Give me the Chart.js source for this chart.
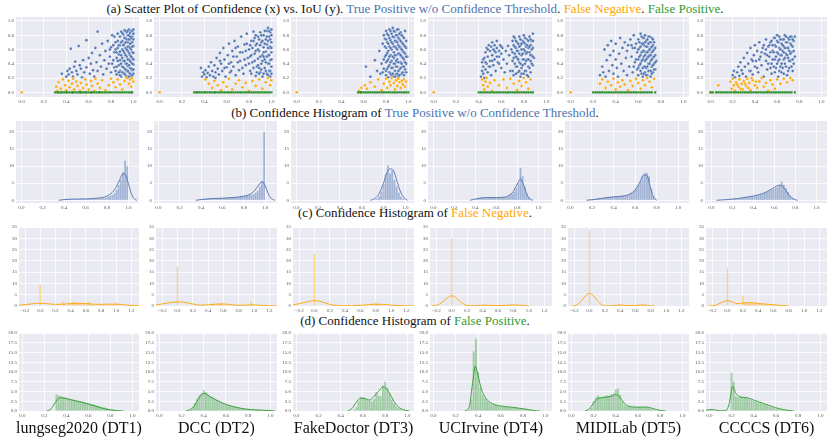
<!DOCTYPE html>
<html>
<head>
<meta charset="utf-8">
<script src="https://cdn.jsdelivr.net/npm/chart.js@4.4.1/dist/chart.umd.min.js"></script>
<style>
    body { margin: 0; width: 830px; height: 440px; position: relative; overflow: hidden; background: #fff;
           font-family: 'Liberation Serif', 'Times New Roman', serif; color: #111; }
    .title { position: absolute; left: 0; width: 830px; text-align: center; font-size: 13px; line-height: 15px; white-space: nowrap; }
    .name { position: absolute; width: 160px; text-align: center; font-size: 16px; line-height: 18px; white-space: nowrap; }
    .tp { color: #4c72b0; }
    .fn { color: #ffa500; }
    .fp { color: #2f9a2f; }
</style>
</head>
<body>
<div class="title" style="top:1px">(a) Scatter Plot of Confidence (x) vs. IoU (y). <span class="tp">True Positive w/o Confidence Threshold</span>. <span class="fn">False Negative</span>. <span class="fp">False Positive</span>.</div>
<div class="title" style="top:105px">(b) Confidence Histogram of <span class="tp">True Positive w/o Confidence Threshold</span>.</div>
<div class="title" style="top:205px">(c) Confidence Histogram of <span class="fn">False Negative</span>.</div>
<div class="title" style="top:313px">(d) Confidence Histogram of <span class="fp">False Positive</span>.</div>
<script>
// ---- data ----
const datasetNames = ['lungseg2020 (DT1)', 'DCC (DT2)', 'FakeDoctor (DT3)', 'UCIrvine (DT4)', 'MIDILab (DT5)', 'CCCCS (DT6)'];

const unitTicks = [0, 0.2, 0.4, 0.6, 0.8, 1.0];
const fnXTicks = [-0.2, 0, 0.2, 0.4, 0.6, 0.8, 1.0, 1.2];
const tpYTicks = [0, 5, 10, 15, 20];
const fnYTicks = [0, 5, 10, 15, 20, 25, 30, 35];
const fpYTicks = [0, 2.5, 5, 7.5, 10, 12.5, 15, 17.5, 20];

// scatter: true positives [confidence, IoU]
const tp1 = [[0.36,0.26],[0.40,0.22],[0.41,0.30],[0.42,0.25],[0.43,0.33],[0.44,0.61],[0.45,0.28],[0.46,0.22],[0.47,0.36],[0.48,0.43],
    [0.49,0.30],[0.50,0.25],[0.51,0.65],[0.52,0.38],[0.53,0.33],[0.54,0.21],[0.55,0.45],[0.56,0.28],[0.58,0.73],[0.58,0.35],
    [0.60,0.48],[0.61,0.26],[0.62,0.40],[0.63,0.55],[0.64,0.31],[0.65,0.22],[0.66,0.62],[0.67,0.42],[0.68,0.85],[0.68,0.30],
    [0.70,0.52],[0.71,0.36],[0.72,0.68],[0.73,0.25],[0.74,0.45],[0.75,0.58],[0.76,0.33],[0.77,0.72],[0.78,0.40],[0.79,0.50],
    [0.80,0.28],[0.80,0.63],[0.81,0.80],[0.82,0.45],[0.83,0.35],[0.83,0.56],[0.84,0.70],[0.85,0.25],[0.85,0.48],[0.86,0.82],
    [0.86,0.62],[0.87,0.38],[0.87,0.53],[0.88,0.30],[0.88,0.45],[0.88,0.66],[0.88,0.78],[0.89,0.22],[0.89,0.52],[0.89,0.85],
    [0.90,0.36],[0.90,0.60],[0.90,0.72],[0.91,0.27],[0.91,0.44],[0.91,0.81],[0.92,0.33],[0.92,0.55],[0.92,0.68],[0.92,0.87],
    [0.93,0.24],[0.93,0.40],[0.93,0.62],[0.93,0.76],[0.94,0.30],[0.94,0.50],[0.94,0.84],[0.95,0.21],[0.95,0.37],[0.95,0.58],
    [0.95,0.70],[0.95,0.80],[0.96,0.28],[0.96,0.46],[0.96,0.64],[0.96,0.88],[0.97,0.34],[0.97,0.52],[0.97,0.74],[0.97,0.83],
    [0.98,0.23],[0.98,0.42],[0.98,0.60],[0.98,0.69],[0.98,0.86],[0.99,0.31],[0.99,0.48],[0.99,0.56],[0.99,0.78],[1.00,0.26],
    [1.00,0.39],[1.00,0.65],[1.00,0.82],
    [0.88,0.24],[0.88,0.57],[0.89,0.40],[0.89,0.70],[0.90,0.28],[0.90,0.48],[0.90,0.83],[0.91,0.35],[0.91,0.58],[0.91,0.66],
    [0.92,0.26],[0.92,0.44],[0.92,0.76],[0.93,0.32],[0.93,0.52],[0.93,0.70],[0.93,0.86],[0.94,0.22],[0.94,0.40],[0.94,0.60],
    [0.94,0.74],[0.95,0.30],[0.95,0.46],[0.95,0.64],[0.95,0.86],[0.96,0.22],[0.96,0.38],[0.96,0.55],[0.96,0.74],[0.96,0.80],
    [0.97,0.26],[0.97,0.44],[0.97,0.62],[0.97,0.68],[0.97,0.78],[0.98,0.33],[0.98,0.50],[0.98,0.76],[0.99,0.24],[0.99,0.40],
    [0.99,0.64],[0.99,0.70],[0.99,0.86],[1.00,0.32],[1.00,0.46],[1.00,0.55],[1.00,0.74],[1.00,0.88],[0.84,0.30],[0.84,0.60],
    [0.86,0.44],[0.86,0.72],[0.87,0.28],[0.87,0.66],[0.85,0.36],[0.82,0.66],[0.81,0.40],[0.79,0.60],[0.83,0.78],[0.85,0.56]];
const tp2 = [[0.37,0.34],[0.38,0.22],[0.39,0.28],[0.40,0.25],[0.41,0.31],[0.42,0.21],[0.43,0.27],[0.44,0.36],[0.45,0.24],[0.46,0.42],
    [0.47,0.30],[0.48,0.22],[0.49,0.38],[0.50,0.28],[0.51,0.48],[0.52,0.33],[0.53,0.25],[0.54,0.55],[0.55,0.40],[0.56,0.30],
    [0.57,0.62],[0.58,0.46],[0.59,0.22],[0.60,0.35],[0.61,0.52],[0.62,0.68],[0.63,0.28],[0.64,0.42],[0.65,0.58],[0.66,0.36],
    [0.67,0.72],[0.68,0.24],[0.69,0.50],[0.70,0.64],[0.71,0.31],[0.72,0.44],[0.73,0.78],[0.74,0.56],[0.75,0.26],[0.76,0.67],
    [0.77,0.38],[0.78,0.82],[0.79,0.48],[0.80,0.60],[0.81,0.30],[0.82,0.72],[0.83,0.42],[0.84,0.85],[0.85,0.54],[0.86,0.23],
    [0.86,0.66],[0.87,0.36],[0.88,0.78],[0.88,0.47],[0.89,0.58],[0.90,0.28],[0.90,0.84],[0.91,0.40],[0.91,0.70],[0.92,0.52],
    [0.92,0.22],[0.93,0.63],[0.93,0.80],[0.94,0.34],[0.94,0.46],[0.95,0.74],[0.95,0.57],[0.96,0.26],[0.96,0.86],[0.96,0.67],
    [0.97,0.40],[0.97,0.52],[0.98,0.30],[0.98,0.62],[0.98,0.78],[0.99,0.45],[0.99,0.84],[0.99,0.22],[1.00,0.36],[1.00,0.56],
    [1.00,0.70],[1.00,0.88],[0.97,0.90],[0.93,0.50],[0.89,0.34],[0.85,0.76],[0.81,0.50],[0.77,0.58],[0.74,0.34],[0.70,0.42],
    [0.66,0.50],[0.62,0.40],[0.58,0.34],[0.54,0.44],[0.50,0.20],
    [0.80,0.40],[0.81,0.66],[0.82,0.26],[0.82,0.52],[0.83,0.62],[0.84,0.34],[0.84,0.72],[0.85,0.44],[0.86,0.58],[0.86,0.80],
    [0.87,0.28],[0.87,0.68],[0.88,0.38],[0.88,0.60],[0.89,0.26],[0.89,0.74],[0.90,0.50],[0.90,0.66],[0.91,0.32],[0.91,0.80],
    [0.92,0.44],[0.92,0.72],[0.93,0.26],[0.93,0.56],[0.94,0.68],[0.94,0.86],[0.95,0.30],[0.95,0.42],[0.96,0.50],[0.96,0.78],
    [0.97,0.24],[0.97,0.62],[0.97,0.72],[0.98,0.40],[0.98,0.52],[0.98,0.86],[0.99,0.30],[0.99,0.64],[0.99,0.74],[1.00,0.26],
    [1.00,0.46],[1.00,0.62],[1.00,0.80],[0.78,0.68],[0.76,0.46],[0.72,0.56],[0.68,0.62],[0.64,0.30]];
const tp3 = [[0.62,0.36],[0.66,0.22],[0.70,0.45],[0.72,0.30],[0.74,0.58],[0.75,0.26],[0.76,0.40],[0.77,0.68],[0.78,0.33],[0.79,0.50],
    [0.79,0.75],[0.80,0.24],[0.80,0.42],[0.80,0.62],[0.80,0.86],[0.81,0.33],[0.81,0.55],[0.81,0.70],[0.82,0.21],[0.82,0.46],
    [0.82,0.80],[0.83,0.28],[0.83,0.38],[0.83,0.64],[0.83,0.88],[0.84,0.52],[0.84,0.73],[0.85,0.24],[0.85,0.44],[0.85,0.60],
    [0.85,0.82],[0.86,0.34],[0.86,0.68],[0.86,0.90],[0.87,0.22],[0.87,0.48],[0.87,0.56],[0.87,0.77],[0.88,0.30],[0.88,0.40],
    [0.88,0.64],[0.88,0.85],[0.89,0.25],[0.89,0.52],[0.89,0.72],[0.90,0.36],[0.90,0.46],[0.90,0.60],[0.90,0.80],[0.91,0.22],
    [0.91,0.66],[0.91,0.88],[0.92,0.32],[0.92,0.54],[0.92,0.74],[0.93,0.42],[0.93,0.62],[0.93,0.84],[0.94,0.26],[0.94,0.50],
    [0.94,0.70],[0.95,0.36],[0.95,0.58],[0.95,0.78],[0.96,0.24],[0.96,0.46],[0.96,0.66],[0.97,0.32],[0.97,0.54],[0.97,0.86],
    [0.98,0.40],[0.98,0.62],[0.98,0.28],[0.99,0.50],
    [0.80,0.30],[0.80,0.52],[0.80,0.74],[0.81,0.44],[0.81,0.82],[0.82,0.36],[0.82,0.58],[0.82,0.68],[0.83,0.50],[0.83,0.76],
    [0.84,0.26],[0.84,0.42],[0.84,0.62],[0.84,0.86],[0.85,0.34],[0.85,0.70],[0.86,0.26],[0.86,0.50],[0.86,0.78],[0.87,0.40],
    [0.87,0.64],[0.87,0.86],[0.88,0.22],[0.88,0.52],[0.88,0.72],[0.89,0.36],[0.89,0.44],[0.89,0.62],[0.89,0.80],[0.90,0.26],
    [0.90,0.70],[0.90,0.88],[0.91,0.30],[0.91,0.42],[0.91,0.54],[0.91,0.76],[0.92,0.24],[0.92,0.64],[0.92,0.82],[0.93,0.34],
    [0.93,0.52],[0.93,0.72],[0.94,0.40],[0.94,0.60],[0.94,0.80],[0.95,0.28],[0.95,0.48],[0.95,0.68],[0.96,0.36],[0.96,0.56],
    [0.96,0.76],[0.97,0.42],[0.97,0.64],[0.98,0.50],[0.98,0.72],[0.79,0.64],[0.78,0.46],[0.78,0.80],[0.77,0.28]];
const tp4 = [[0.42,0.22],[0.43,0.30],[0.43,0.42],[0.44,0.26],[0.44,0.36],[0.45,0.48],[0.45,0.20],[0.46,0.32],[0.46,0.56],[0.47,0.40],
    [0.47,0.62],[0.48,0.28],[0.48,0.50],[0.49,0.66],[0.49,0.36],[0.50,0.58],[0.50,0.44],[0.51,0.24],[0.51,0.64],[0.52,0.52],
    [0.52,0.70],[0.53,0.38],[0.53,0.60],[0.54,0.46],[0.54,0.66],[0.55,0.30],[0.55,0.56],[0.56,0.62],[0.56,0.72],[0.57,0.42],
    [0.58,0.58],[0.58,0.50],[0.59,0.66],[0.60,0.34],[0.60,0.54],[0.61,0.62],[0.62,0.46],[0.63,0.28],[0.64,0.58],[0.65,0.40],
    [0.66,0.65],[0.67,0.52],[0.68,0.30],[0.69,0.60],[0.70,0.72],[0.70,0.44],[0.71,0.24],[0.71,0.66],[0.72,0.54],[0.72,0.76],
    [0.73,0.36],[0.73,0.62],[0.74,0.48],[0.74,0.70],[0.75,0.28],[0.75,0.58],[0.76,0.42],[0.76,0.78],[0.77,0.66],[0.77,0.22],
    [0.78,0.52],[0.78,0.34],[0.79,0.72],[0.79,0.46],[0.80,0.60],[0.80,0.26],[0.80,0.80],[0.81,0.40],[0.81,0.68],[0.82,0.54],
    [0.82,0.30],[0.83,0.74],[0.83,0.46],[0.84,0.62],[0.84,0.22],[0.84,0.36],[0.85,0.56],[0.85,0.78],[0.86,0.44],[0.86,0.66],
    [0.86,0.28],[0.87,0.52],[0.87,0.72],[0.88,0.38],[0.88,0.62],[0.88,0.82],[0.89,0.48],
    [0.70,0.30],[0.70,0.56],[0.71,0.48],[0.71,0.78],[0.72,0.40],[0.72,0.64],[0.73,0.26],[0.73,0.50],[0.73,0.72],[0.74,0.58],
    [0.74,0.36],[0.75,0.46],[0.75,0.68],[0.76,0.54],[0.76,0.30],[0.76,0.64],[0.77,0.40],[0.77,0.74],[0.78,0.60],[0.78,0.26],
    [0.78,0.68],[0.79,0.38],[0.79,0.54],[0.80,0.46],[0.80,0.70],[0.81,0.30],[0.81,0.58],[0.81,0.76],[0.82,0.44],[0.82,0.64],
    [0.83,0.24],[0.83,0.56],[0.83,0.66],[0.84,0.46],[0.84,0.72],[0.85,0.34],[0.85,0.64],[0.86,0.52],[0.86,0.74],[0.87,0.40],
    [0.87,0.60],[0.88,0.50],[0.88,0.72],[0.44,0.46],[0.46,0.42],[0.48,0.60],[0.50,0.36],[0.52,0.44],[0.54,0.58],[0.56,0.50],
    [0.58,0.40],[0.60,0.64]];
const tp5 = [[0.26,0.24],[0.28,0.36],[0.29,0.28],[0.30,0.60],[0.31,0.22],[0.32,0.45],[0.33,0.66],[0.34,0.30],[0.35,0.52],[0.36,0.72],
    [0.37,0.38],[0.38,0.26],[0.38,0.58],[0.40,0.46],[0.40,0.68],[0.41,0.34],[0.42,0.22],[0.43,0.54],[0.44,0.76],[0.45,0.40],
    [0.46,0.62],[0.47,0.30],[0.48,0.70],[0.49,0.48],[0.50,0.24],[0.50,0.58],[0.51,0.66],[0.52,0.36],[0.53,0.74],[0.54,0.50],
    [0.55,0.28],[0.55,0.62],[0.56,0.80],[0.57,0.42],[0.58,0.68],[0.59,0.32],[0.59,0.56],[0.60,0.24],[0.60,0.46],[0.60,0.74],
    [0.61,0.38],[0.61,0.62],[0.62,0.30],[0.62,0.52],[0.62,0.82],[0.63,0.44],[0.63,0.68],[0.64,0.22],[0.64,0.58],[0.64,0.76],
    [0.65,0.36],[0.65,0.50],[0.65,0.66],[0.66,0.28],[0.66,0.44],[0.66,0.80],[0.67,0.56],[0.67,0.72],[0.67,0.34],[0.68,0.24],
    [0.68,0.48],[0.68,0.64],[0.69,0.40],[0.69,0.78],[0.69,0.58],[0.70,0.30],[0.70,0.52],[0.70,0.70],[0.71,0.44],[0.71,0.62],
    [0.71,0.22],[0.72,0.36],[0.72,0.56],[0.72,0.76],[0.73,0.28],[0.73,0.48],[0.73,0.66],[0.74,0.40],[0.74,0.60],[0.75,0.32],
    [0.75,0.52],[0.76,0.44],
    [0.60,0.34],[0.60,0.60],[0.61,0.50],[0.61,0.70],[0.62,0.40],[0.62,0.64],[0.63,0.26],[0.63,0.56],[0.63,0.78],[0.64,0.34],
    [0.64,0.46],[0.64,0.68],[0.65,0.26],[0.65,0.58],[0.65,0.76],[0.66,0.36],[0.66,0.52],[0.66,0.70],[0.67,0.24],[0.67,0.46],
    [0.67,0.64],[0.68,0.36],[0.68,0.56],[0.68,0.74],[0.69,0.30],[0.69,0.50],[0.69,0.68],[0.70,0.40],[0.70,0.60],[0.70,0.78],
    [0.71,0.30],[0.71,0.52],[0.71,0.70],[0.72,0.46],[0.72,0.64],[0.72,0.26],[0.73,0.38],[0.73,0.58],[0.73,0.74],[0.74,0.32],
    [0.74,0.50],[0.74,0.70],[0.75,0.42],[0.75,0.62],[0.58,0.46],[0.57,0.62],[0.56,0.36],[0.54,0.66]];
const tp6 = [[0.20,0.24],[0.21,0.30],[0.22,0.21],[0.24,0.28],[0.25,0.36],[0.26,0.23],[0.27,0.42],[0.28,0.31],[0.29,0.26],[0.30,0.48],
    [0.31,0.36],[0.32,0.22],[0.33,0.55],[0.34,0.40],[0.35,0.30],[0.36,0.62],[0.37,0.46],[0.38,0.25],[0.39,0.52],[0.40,0.36],
    [0.40,0.66],[0.41,0.44],[0.42,0.58],[0.43,0.28],[0.44,0.70],[0.45,0.50],[0.46,0.38],[0.47,0.62],[0.48,0.22],[0.49,0.54],
    [0.50,0.74],[0.50,0.44],[0.51,0.32],[0.52,0.64],[0.53,0.50],[0.54,0.70],[0.55,0.40],[0.55,0.26],[0.56,0.58],[0.57,0.76],
    [0.58,0.46],[0.58,0.66],[0.59,0.34],[0.60,0.56],[0.60,0.72],[0.61,0.22],[0.61,0.44],[0.62,0.62],[0.62,0.78],[0.63,0.52],
    [0.63,0.36],[0.64,0.68],[0.64,0.28],[0.65,0.58],[0.65,0.74],[0.66,0.46],[0.66,0.64],[0.67,0.80],[0.67,0.40],[0.68,0.54],
    [0.68,0.70],[0.69,0.24],[0.69,0.62],[0.70,0.48],[0.70,0.76],[0.71,0.58],[0.71,0.34],[0.72,0.68],[0.72,0.44],[0.73,0.78],
    [0.73,0.56],[0.74,0.64],[0.74,0.30],[0.75,0.72],[0.76,0.78],[0.76,0.50],
    [0.50,0.60],[0.51,0.52],[0.52,0.40],[0.53,0.66],[0.54,0.34],[0.54,0.56],[0.55,0.72],[0.56,0.46],[0.56,0.66],[0.57,0.36],
    [0.57,0.56],[0.58,0.28],[0.58,0.76],[0.59,0.50],[0.59,0.64],[0.60,0.40],[0.60,0.80],[0.61,0.54],[0.61,0.70],[0.62,0.30],
    [0.62,0.46],[0.63,0.60],[0.63,0.74],[0.64,0.40],[0.64,0.52],[0.65,0.34],[0.65,0.66],[0.66,0.26],[0.66,0.56],[0.66,0.74],
    [0.67,0.48],[0.67,0.62],[0.68,0.36],[0.68,0.78],[0.69,0.52],[0.69,0.70],[0.70,0.30],[0.70,0.62],[0.71,0.44],[0.71,0.74],
    [0.72,0.54],[0.72,0.78],[0.73,0.36],[0.73,0.66],[0.74,0.46],[0.74,0.74],[0.75,0.58],[0.75,0.40],[0.46,0.56],[0.44,0.46],
    [0.42,0.34],[0.48,0.66],[0.38,0.44],[0.36,0.30]];

// scatter: false negatives [confidence, IoU]
const fn1 = [[0.00,0.00],[0.31,0.08],[0.32,0.02],[0.33,0.14],[0.35,0.05],[0.37,0.18],[0.39,0.10],[0.40,0.03],[0.42,0.16],[0.43,0.07],
    [0.45,0.12],[0.46,0.19],[0.47,0.04],[0.49,0.15],[0.50,0.09],[0.52,0.02],[0.53,0.13],[0.55,0.06],[0.57,0.18],[0.58,0.11],
    [0.60,0.04],[0.62,0.16],[0.63,0.09],[0.65,0.02],[0.66,0.19],[0.68,0.12],[0.70,0.06],[0.72,0.17],[0.75,0.03],[0.78,0.10],
    [0.80,0.19],[0.82,0.14],[0.84,0.07],[0.86,0.18],[0.88,0.11],[0.90,0.04],[0.92,0.16],[0.94,0.20],[0.96,0.12],[0.97,0.18],
    [0.98,0.08],[1.00,0.15],[0.99,0.20]];
const fn2 = [[0.00,0.00],[0.41,0.18],[0.44,0.12],[0.47,0.06],[0.49,0.16],[0.52,0.10],[0.55,0.03],[0.57,0.14],[0.60,0.08],[0.62,0.19],
    [0.65,0.04],[0.68,0.12],[0.71,0.17],[0.74,0.07],[0.77,0.13],[0.80,0.02],[0.83,0.16],[0.86,0.09],[0.89,0.18],[0.92,0.05],
    [0.95,0.14],[0.97,0.20],[0.99,0.10],[1.00,0.17]];
const fn3 = [[0.00,0.00],[0.56,0.02],[0.58,0.06],[0.61,0.10],[0.63,0.05],[0.66,0.14],[0.70,0.08],[0.73,0.18],[0.76,0.03],[0.78,0.12],
    [0.80,0.19],[0.81,0.06],[0.83,0.15],[0.84,0.10],[0.85,0.20],[0.87,0.13],[0.88,0.04],[0.89,0.17],[0.90,0.09],[0.91,0.19],
    [0.92,0.14],[0.93,0.06],[0.94,0.16],[0.95,0.11],[0.96,0.18],[0.97,0.08],[0.98,0.15]];
const fn4 = [[0.00,0.00],[0.43,0.18],[0.44,0.10],[0.45,0.04],[0.46,0.15],[0.47,0.20],[0.48,0.08],[0.50,0.13],[0.52,0.02],[0.54,0.17],
    [0.58,0.10],[0.62,0.18],[0.65,0.06],[0.68,0.19],[0.71,0.12],[0.74,0.03],[0.76,0.16],[0.78,0.09],[0.80,0.20],[0.82,0.14],
    [0.84,0.05],[0.86,0.18]];
const fn5 = [[0.00,0.00],[0.26,0.12],[0.28,0.18],[0.31,0.06],[0.33,0.15],[0.36,0.10],[0.38,0.19],[0.40,0.04],[0.42,0.14],[0.44,0.08],
    [0.46,0.17],[0.48,0.11],[0.51,0.03],[0.53,0.16],[0.55,0.09],[0.58,0.19],[0.60,0.13],[0.62,0.05],[0.64,0.17],[0.66,0.10],
    [0.68,0.20],[0.70,0.15],[0.72,0.07],[0.74,0.19]];
const fn6 = [[0.00,0.00],[0.07,0.10],[0.18,0.15],[0.19,0.05],[0.20,0.19],[0.21,0.10],[0.22,0.02],[0.23,0.14],[0.25,0.08],[0.26,0.18],
    [0.28,0.12],[0.29,0.04],[0.30,0.16],[0.32,0.09],[0.33,0.19],[0.35,0.13],[0.36,0.03],[0.38,0.17],[0.40,0.10],[0.42,0.06],
    [0.44,0.15],[0.46,0.20],[0.48,0.08],[0.50,0.13],[0.52,0.02],[0.54,0.17],[0.56,0.11],[0.58,0.05],[0.60,0.18],[0.63,0.12],
    [0.66,0.19],[0.69,0.14],[0.72,0.20],[0.74,0.17],[0.24,0.11],[0.27,0.05],[0.31,0.12],[0.34,0.06],[0.37,0.20],[0.41,0.15]];

// scatter: false positives, confidence only (IoU = 0)
const fp1 = [0.30,0.32,0.33,0.35,0.36,0.38,0.40,0.41,0.43,0.45,0.46,0.48,0.50,0.52,0.53,0.55,0.57,0.58,0.60,0.62,
    0.63,0.65,0.67,0.69,0.70,0.72,0.74,0.76,0.78,0.80,0.82,0.84,0.86,0.88,0.90,0.92,0.94,0.96,0.98,0.99];
const fp2 = [0.31,0.33,0.34,0.36,0.38,0.40,0.41,0.43,0.45,0.47,0.49,0.50,0.52,0.54,0.56,0.58,0.60,0.62,0.64,0.66,
    0.68,0.70,0.72,0.74,0.76,0.78,0.80,0.82,0.84,0.86,0.88,0.90,0.92,0.94,0.96,0.98,1.00];
const fp3 = [0.55,0.57,0.58,0.60,0.62,0.64,0.66,0.68,0.70,0.72,0.74,0.76,0.78,0.80,0.82,0.84,0.86,0.88,0.90,0.92,
    0.94,0.96,0.98,1.00];
const fp4 = [0.40,0.42,0.44,0.46,0.48,0.50,0.52,0.54,0.56,0.58,0.60,0.62,0.64,0.66,0.68,0.70,0.72,0.74,0.76,0.78,
    0.80,0.82,0.84,0.86,0.88];
const fp5 = [0.20,0.22,0.24,0.26,0.28,0.30,0.32,0.34,0.36,0.38,0.40,0.42,0.44,0.46,0.48,0.50,0.52,0.54,0.56,0.58,
    0.60,0.62,0.64,0.66,0.68,0.70,0.72,0.75];
const fp6 = [0.00,0.02,0.05,0.07,0.09,0.11,0.13,0.15,0.17,0.19,0.21,0.23,0.25,0.27,0.29,0.31,0.33,0.35,0.37,0.39,
    0.41,0.43,0.45,0.47,0.49,0.51,0.53,0.55,0.57,0.59,0.61,0.63,0.65,0.67,0.69,0.71,0.73,0.76];

// histograms: bin width, first bin centre per panel, bar heights (density)
const binWidth = 0.02;
const tpHistStart = [0.41, 0.41, 0.72, 0.41, 0.15, 0.11];
const tpHist1 = [0.2,0.3,0.3,0.3,0.3,0.3,0.3,0.3,0.3,0.4, 0.4,0.4,0.4,0.5,0.5,0.6,0.6,0.7,0.7,0.8, 1.0,1.2,1.5,2.0,3.0,4.5,6.0,8.2,11.6,10.0];
const tpHist2 = [0.3,0.4,0.5,0.5,0.5,0.5,0.5,0.5,0.6,0.6, 0.6,0.7,0.7,0.8,0.8,0.9,1.0,1.0,1.1,1.2, 1.3,1.4,1.5,1.6,1.8,2.2,2.8,4.0,5.5,20];
const tpHist3 = [0.2,0.5,1.2,2.5,4.5,7.5,10.2,7.8,8.8,6.0, 4.0,2.2,1.0,0.4,0.1];
const tpHist4 = [0.3,0.6,0.7,0.8,0.8,0.7,0.8,0.8,0.7,0.8, 0.8,0.9,0.9,0.8,0.9,1.2,1.5,1.8,2.5,3.5, 5.0,9.5,7.0,4.0,2.0,0.8,0.2];
const tpHist5 = [0.1,0.2,0.3,0.3,0.4,0.5,0.6,0.6,0.7,0.8, 0.9,1.0,1.0,1.1,1.2,1.1,1.2,1.3,1.4,1.5, 1.8,2.2,2.8,3.5,4.5,5.5,7.0,8.0,8.0,7.0, 3.5,1.2,0.3];
const tpHist6 = [0.1,0.1,0.2,0.2,0.3,0.3,0.4,0.5,0.5,0.6, 0.7,0.8,0.9,1.0,1.1,1.2,1.4,1.5,1.7,1.9, 2.1,2.4,2.7,3.0,3.3,3.6,4.0,4.5,5.5,4.5, 3.5,2.4,1.3,0.6,0.2,0.1];

const fnHistStart = [0, 0, 0, 0, 0, 0];
const fnHist1 = [9.5,0,0,0,0,0,0,0,0,0, 0,0,0,0,0,2.0,0.8,0,0.5,0.8, 1.2,1.5,2.0,1.3,1.2,1.5,1.0,1.3,0.8,1.0, 0.8,1.0,1.8,1.0,0.5,0.6,0,0.4,0,0.5, 0.6,0,1.2,0.5,0,0.6,0.4,0,0.7,0.5, 1.5];
const fnHist2 = [17.5,0,0,0,0,0,0,0,0,0, 0,0,0,0,0,0,0,0,0,0, 0,0,0.6,1.2,0.8,0.4,0,0.8,1.0,1.2, 0.6,0.6,0,0.4,0,0,0,0,0.3,0, 0,0,0,0,0,0,0,0.5,1.8,0.6, 0];
const fnHist3 = [23,0,0,0,0,0,0,0,0,0, 0,0,0,0,0,0,0,0,0,0, 0,0,0,0,0,0,0,0,0,0, 0.3,0,0,0,0,0,0,0,0.5,0.8, 1.5,0.8,0.6,0.8,0,0.5,0,0.3,0,0, 0];
const fnHist4 = [30,0,0,0,0,0,0,0,0,0, 0,0,0,0,0,0,0,0,0,0, 0.4,0.6,0.3,0,0,0,0,0,0,0, 0,0,0,0,0.2,0,0,0,0.3,0, 0.6,0.4,0,0,0,0,0,0,0,0, 0];
const fnHist5 = [33.5,0,0,0,0,0,0,0,0,0, 0,0,0,0,0,0,0,0,0,0.3, 0.6,0,0,0,0,0,0,0,0,0, 0,0,0,0,0.4,0.6,0.3,0,0,0, 0,0,0,0,0,0,0,0,0,0, 0];
const fnHist6 = [17,0,0,0,0,0,0,0,0,0, 4.5,1.5,1.2,1.4,1.0,1.6,1.5,1.0,1.3,1.0, 1.2,1.0,1.1,0.8,0.9,0.6,0.8,0.6,0.7,0.5, 0.6,0.4,0,0.4,0,0.3,0,0,0,0, 0,0,0,0,0,0,0,0,0,0, 0];

const fpHistStart = [0.31, 0.28, 0.52, 0.32, 0.18, 0.00];
const fpHist1 = [4.2,4.0,3.8,3.6,3.5,3.3,3.1,3.0,2.9,2.7, 2.6,2.5,2.4,2.2,2.1,2.0,1.8,1.7,1.5,1.3, 1.2,1.0,0.9,0.7,0.5,0.4,0.3,0.2,0.1,0.1, 0.1];
const fpHist2 = [0.3,1.0,2.0,3.2,4.0,4.5,5.3,4.8,4.2,3.8, 3.5,3.1,2.8,2.5,2.2,2.0,1.7,1.5,1.3,1.1, 1.0,0.9,0.8,0.7,0.6,0.5,0.5,0.4,0.4,0.3, 0.3,0.2,0.2,0.2,0.2,0.2,0.3];
const fpHist3 = [0.3,1.0,2.5,3.5,3.6,3.3,3.0,2.6,2.5,3.0, 4.8,4.0,3.8,6.5,7.5,6.0,4.5,3.0,2.0,1.2, 0.7,0.4,0.2,0.1];
const fpHist4 = [0.5,3.0,15.3,18.5,10.0,6.0,4.0,3.2,2.6,2.2, 1.8,1.6,1.5,1.3,1.2,1.1,1.0,1.0,0.9,0.9, 0.8,0.8,0.7,0.6,0.5,0.4,0.4,0.3,0.2,0.1];
const fpHist5 = [0.8,2.5,3.5,4.0,3.6,3.4,3.8,4.0,3.8,4.2, 4.5,5.5,5.8,4.2,2.5,1.5,1.2,1.0,1.0,1.0, 0.9,1.0,1.0,0.9,1.0,0.9,0.8,0.6,0.4,0.2];
const fpHist6 = [0.3,0.3,0,0,0,0,0,0,0,0, 9.8,7.5,3.8,3.5,3.8,3.6,3.5,3.2,3.0,2.8, 2.6,2.4,2.2,2.0,1.8,1.6,1.4,1.2,1.0,0.8, 0.6,0.5,0.4,0.3,0.2,0.1];

// kde curves [x, density]
const tpKde1 = [[0.35,0],[0.4,0.2],[0.5,0.35],[0.6,0.4],[0.7,0.6],[0.78,1.0],[0.84,2.0],[0.88,3.5],[0.92,6.0],[0.95,7.8],[0.97,7.6],[1.0,5.0],[1.03,1.8],[1.06,0.3],[1.08,0]];
const tpKde2 = [[0.35,0],[0.4,0.2],[0.5,0.5],[0.6,0.6],[0.7,0.8],[0.8,1.2],[0.86,1.8],[0.9,2.8],[0.94,4.5],[0.97,5.5],[1.0,4.2],[1.03,1.8],[1.06,0.4],[1.09,0]];
const tpKde3 = [[0.68,0],[0.72,0.5],[0.76,2.0],[0.8,5.0],[0.83,8.0],[0.86,9.2],[0.89,8.8],[0.92,6.0],[0.95,3.0],[0.98,1.0],[1.02,0]];
const tpKde4 = [[0.35,0],[0.42,0.5],[0.5,0.8],[0.6,0.8],[0.68,0.9],[0.72,1.4],[0.76,2.5],[0.8,4.8],[0.83,6.2],[0.86,4.5],[0.89,1.8],[0.92,0.4],[0.95,0]];
const tpKde5 = [[0.15,0],[0.22,0.2],[0.3,0.6],[0.4,1.0],[0.48,1.2],[0.55,1.8],[0.6,3.0],[0.64,5.0],[0.68,7.4],[0.71,7.2],[0.74,4.0],[0.77,1.0],[0.8,0]];
const tpKde6 = [[0.05,0],[0.15,0.2],[0.25,0.5],[0.35,1.0],[0.45,1.6],[0.52,2.4],[0.58,3.4],[0.63,4.3],[0.66,4.4],[0.7,3.2],[0.74,1.5],[0.78,0.4],[0.82,0]];

const fnKde1 = [[-0.3,0.3],[-0.2,0.6],[-0.1,1.0],[0.0,1.2],[0.1,1.0],[0.2,0.7],[0.3,0.8],[0.4,1.1],[0.5,1.2],[0.6,1.1],[0.7,0.8],[0.8,0.7],[0.9,0.8],[1.0,0.8],[1.1,0.5],[1.2,0.25],[1.3,0.1]];
const fnKde2 = [[-0.3,0.4],[-0.2,0.9],[-0.1,1.5],[0.0,1.8],[0.1,1.6],[0.2,0.9],[0.3,0.4],[0.4,0.5],[0.5,0.8],[0.6,0.9],[0.7,0.6],[0.8,0.3],[0.9,0.4],[1.0,0.5],[1.1,0.3],[1.2,0.1],[1.3,0]];
const fnKde3 = [[-0.3,0.4],[-0.2,1.0],[-0.1,1.8],[0.0,2.4],[0.1,1.8],[0.2,0.7],[0.3,0.2],[0.4,0.1],[0.5,0.15],[0.6,0.3],[0.7,0.6],[0.8,0.8],[0.9,0.7],[1.0,0.4],[1.1,0.2],[1.2,0.1],[1.3,0.05]];
const fnKde4 = [[-0.25,0.1],[-0.2,0.3],[-0.15,1.0],[-0.1,2.3],[-0.05,3.8],[0.0,4.5],[0.05,3.8],[0.1,2.3],[0.15,1.0],[0.2,0.3],[0.25,0.1],[0.3,0.1],[0.4,0.4],[0.5,0.3],[0.6,0.2],[0.7,0.3],[0.8,0.5],[0.9,0.3],[1.0,0.05]];
const fnKde5 = [[-0.22,0],[-0.15,0.8],[-0.1,2.5],[-0.05,4.6],[0.0,5.6],[0.05,4.6],[0.1,2.5],[0.15,0.8],[0.22,0.05],[0.3,0.1],[0.4,0.5],[0.5,0.2],[0.6,0.2],[0.7,0.5],[0.8,0.1],[0.85,0]];
const fnKde6 = [[-0.25,0],[-0.15,0.4],[-0.08,1.5],[0.0,2.3],[0.08,1.6],[0.13,1.0],[0.2,1.3],[0.28,1.5],[0.36,1.3],[0.45,1.0],[0.55,0.7],[0.65,0.4],[0.72,0.2],[0.8,0]];

const fpKde1 = [[0.22,0],[0.26,0.5],[0.3,2.2],[0.34,3.4],[0.38,3.3],[0.44,2.9],[0.5,2.5],[0.56,2.1],[0.62,1.6],[0.68,1.1],[0.74,0.6],[0.8,0.3],[0.86,0.1],[0.92,0]];
const fpKde2 = [[0.24,0],[0.3,0.8],[0.34,2.5],[0.38,4.2],[0.41,4.5],[0.45,3.8],[0.5,3.0],[0.56,2.2],[0.62,1.5],[0.7,0.9],[0.78,0.5],[0.86,0.3],[0.94,0.2],[1.0,0.1],[1.04,0]];
const fpKde3 = [[0.46,0],[0.5,0.6],[0.54,2.2],[0.58,3.3],[0.62,3.2],[0.66,2.8],[0.7,3.8],[0.74,5.0],[0.78,6.2],[0.81,5.8],[0.85,4.0],[0.89,2.0],[0.93,0.8],[0.98,0.2],[1.02,0]];
const fpKde4 = [[0.28,0],[0.32,1.0],[0.35,7.0],[0.375,11.5],[0.4,9.0],[0.43,5.5],[0.47,3.2],[0.52,2.0],[0.58,1.4],[0.65,1.1],[0.72,0.9],[0.8,0.6],[0.86,0.3],[0.92,0.05],[0.95,0]];
const fpKde5 = [[0.12,0],[0.16,0.5],[0.2,2.0],[0.24,3.2],[0.3,3.5],[0.36,3.8],[0.4,4.2],[0.43,3.8],[0.47,2.2],[0.52,1.2],[0.6,1.0],[0.68,1.0],[0.74,0.6],[0.8,0.15],[0.85,0]];
const fpKde6 = [[-0.05,0],[0.0,0.35],[0.04,0.35],[0.09,0.05],[0.15,0.1],[0.18,2.0],[0.21,6.3],[0.24,4.5],[0.28,3.6],[0.34,3.4],[0.4,2.8],[0.48,2.0],[0.56,1.2],[0.63,0.6],[0.7,0.2],[0.76,0]];

// axis ranges per panel
const scatterX = [-0.05, 1.05];
const scatterY = [-0.065, 1.055];
const tpX = [[-0.05,1.10],[-0.04,1.11],[-0.05,1.08],[-0.05,1.13],[-0.05,1.10],[-0.06,1.10]];
const tpY = [-0.8, 23.2];
const fnX = [-0.28, 1.30];
const fnY = [0, 35];
const fpX = [-0.03, 1.06];
const fpY = [0, 20];

// ---- layout ----
const YW = 14, XH = 9, PT = 4, PR = 6;
const colLeftAB = [16, 154, 291, 428, 565, 705];
const colLeftCD = [19, 156, 293, 430, 568, 706];
const colRight = [139, 277, 414, 552, 689, 827];
const rows = { a: [16, 97], b: [120, 203], c: [226, 306], d: [332, 411] };

const BLUE = '#4c72b0', ORANGE = '#ffa500', GREEN = '#2a9a2a';

Chart.defaults.animation = false;
Chart.defaults.font.family = "'Liberation Serif', 'Times New Roman', serif";

const bgPlugin = {
    id: 'bg',
    beforeDraw(chart) {
        const { ctx, chartArea: a } = chart;
        ctx.save();
        ctx.fillStyle = '#eaeaf2';
        ctx.fillRect(a.left, a.top, a.width, a.height);
        ctx.restore();
    }
};

const oneDec = v => v.toFixed(1).replace('-', '\u2212');
const whole = v => String(v);

function axis(pos, range, ticks, fmt) {
    return {
        type: 'linear', position: pos, min: range[0], max: range[1], offset: false,
        grid: { color: '#ffffff', lineWidth: 0.8, drawTicks: false, offset: false },
        border: { display: false },
        ticks: { font: { size: 5 }, color: '#555', padding: 2, autoSkip: false, maxRotation: 0, callback: v => fmt(v) },
        afterBuildTicks: s => { s.ticks = ticks.map(v => ({ value: v })); },
        afterFit: s => { if (pos === 'left') s.width = YW; else s.height = XH; }
    };
}

function makeCanvas(L, R, T, B) {
    const c = document.createElement('canvas');
    const w = R - L + YW + PR, h = B - T + PT + XH;
    c.width = w; c.height = h;
    c.style.cssText = `position:absolute;left:${L - YW}px;top:${T - PT}px;width:${w}px;height:${h}px`;
    document.body.appendChild(c);
    return c;
}

function options(xr, xt, xf, yr, yt, yf) {
    return {
        responsive: false,
        layout: { padding: { top: PT, right: PR, left: 0, bottom: 0 } },
        plugins: { legend: { display: false }, tooltip: { enabled: false } },
        scales: { x: axis('bottom', xr, xt, xf), y: axis('left', yr, yt, yf) }
    };
}

const toXY = arr => arr.map(p => ({ x: p[0], y: p[1] }));

function scatterPanel(i, tp, fn, fp) {
    const cv = makeCanvas(colLeftAB[i], colRight[i], rows.a[0], rows.a[1]);
    new Chart(cv, {
        type: 'scatter',
        data: {
            datasets: [
                { data: fp.map(x => ({ x, y: 0 })), backgroundColor: GREEN, borderColor: '#1c7a1c', borderWidth: 0.3,
                  pointStyle: 'rect', pointRadius: 1.3, order: 0 },
                { data: toXY(fn), backgroundColor: ORANGE, borderColor: '#ffffff', borderWidth: 0.3, pointRadius: 1.45, order: 1 },
                { data: toXY(tp), backgroundColor: BLUE, borderColor: '#ffffff', borderWidth: 0.3, pointRadius: 1.45, order: 2 }
            ]
        },
        options: options(scatterX, unitTicks, oneDec, scatterY, unitTicks, oneDec),
        plugins: [bgPlugin]
    });
}

function histPanel(L, R, row, start, heights, kde, color, fill, xr, xt, xf, yr, yt, yf) {
    const cv = makeCanvas(L, R, row[0], row[1]);
    new Chart(cv, {
        type: 'bar',
        data: {
            datasets: [
                { type: 'line', data: toXY(kde), borderColor: color, borderWidth: 0.9, pointRadius: 0,
                  cubicInterpolationMode: 'monotone', order: 0 },
                { data: heights.map((h, k) => ({ x: start + k * binWidth, y: h })), backgroundColor: fill,
                  barPercentage: 0.85, categoryPercentage: 1, order: 1 }
            ]
        },
        options: options(xr, xt, xf, yr, yt, yf),
        plugins: [bgPlugin]
    });
}

const tpSets = [tp1, tp2, tp3, tp4, tp5, tp6];
const fnSets = [fn1, fn2, fn3, fn4, fn5, fn6];
const fpSets = [fp1, fp2, fp3, fp4, fp5, fp6];
const tpHists = [tpHist1, tpHist2, tpHist3, tpHist4, tpHist5, tpHist6];
const fnHists = [fnHist1, fnHist2, fnHist3, fnHist4, fnHist5, fnHist6];
const fpHists = [fpHist1, fpHist2, fpHist3, fpHist4, fpHist5, fpHist6];
const tpKdes = [tpKde1, tpKde2, tpKde3, tpKde4, tpKde5, tpKde6];
const fnKdes = [fnKde1, fnKde2, fnKde3, fnKde4, fnKde5, fnKde6];
const fpKdes = [fpKde1, fpKde2, fpKde3, fpKde4, fpKde5, fpKde6];

for (let i = 0; i < 6; i++) {
    scatterPanel(i, tpSets[i], fnSets[i], fpSets[i]);
    histPanel(colLeftAB[i], colRight[i], rows.b, tpHistStart[i], tpHists[i], tpKdes[i], BLUE, 'rgba(76,114,176,0.45)',
        tpX[i], unitTicks, oneDec, tpY, tpYTicks, whole);
    histPanel(colLeftCD[i], colRight[i], rows.c, fnHistStart[i], fnHists[i], fnKdes[i], ORANGE, 'rgba(255,165,0,0.45)',
        fnX, fnXTicks, oneDec, fnY, fnYTicks, whole);
    histPanel(colLeftCD[i], colRight[i], rows.d, fpHistStart[i], fpHists[i], fpKdes[i], GREEN, 'rgba(42,154,42,0.4)',
        fpX, unitTicks, oneDec, fpY, fpYTicks, oneDec);

    const name = document.createElement('div');
    name.className = 'name';
    name.textContent = datasetNames[i];
    name.style.left = ((colLeftCD[i] + colRight[i]) / 2 - 80) + 'px';
    name.style.top = '419px';
    document.body.appendChild(name);
}
</script>
</body>
</html>
